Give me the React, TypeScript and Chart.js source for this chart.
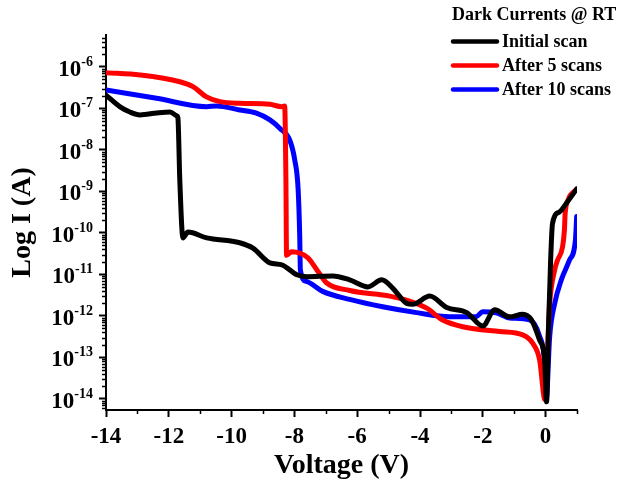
import React, { useEffect, useRef } from 'react';
import { Chart, registerables } from 'chart.js';

Chart.register(...registerables);

// ---- Data (Voltage in V, current in A) ----
const initialV = [-14, -13.55, -13.24, -12.92, -12.38, -11.96, -11.74, -11.71, -11.65, -11.55, -11.39, -10.79, -9.74, -9.32, -8.78, -8.40, -7.92, -7.61, -6.78, -6.24, -5.66, -5.22, -4.87, -4.42, -4.23, -3.69, -3.15, -2.51, -2.00, -1.62, -1.15, -0.73, -0.45, -0.19, -0.03, 0.03, 0.09, 0.16, 0.22, 0.44, 0.67, 0.99];
const initialI = [2.1e-7, 1.09e-7, 8.2e-8, 7.0e-8, 7.8e-8, 8.2e-8, 6.6e-8, 6.0e-8, 1.9e-9, 7.6e-11, 1.05e-10, 7.6e-11, 5.8e-11, 4.3e-11, 1.9e-11, 1.7e-11, 9.8e-12, 8.8e-12, 9.2e-12, 7.4e-12, 5.0e-12, 7.4e-12, 4.7e-12, 2.0e-12, 1.9e-12, 3.0e-12, 1.6e-12, 1.2e-12, 5.7e-13, 1.4e-12, 9.5e-13, 1.1e-12, 8.0e-13, 2.6e-13, 8.7e-14, 8.5e-15, 4.6e-13, 2.2e-11, 1.7e-10, 3.2e-10, 5.3e-10, 1.15e-9];

const after5V = [-14, -12.92, -11.65, -11.23, -10.80, -10.37, -9.74, -8.78, -8.41, -8.31, -8.27, -8.25, -8.09, -7.57, -7.25, -6.98, -6.24, -4.96, -4.43, -3.80, -3.28, -2.64, -1.46, -0.73, -0.41, -0.19, -0.02, 0.13, 0.29, 0.38, 0.54, 0.60, 0.62, 0.72, 0.97];
const after5I = [7.3e-7, 6.4e-7, 4.4e-7, 3.35e-7, 1.9e-7, 1.46e-7, 1.33e-7, 1.26e-7, 1.1e-7, 1.15e-7, 1.9e-9, 2.9e-11, 3.5e-11, 2.5e-11, 1.17e-11, 6.3e-12, 4.1e-12, 3.0e-12, 2.4e-12, 1.56e-12, 8.0e-13, 5.5e-13, 4.2e-13, 3.5e-13, 2.2e-13, 8.7e-14, 9.5e-15, 2.0e-12, 1.3e-11, 2.2e-11, 4.6e-11, 1.2e-10, 2.7e-10, 6.3e-10, 1.1e-9];

const after10V = [-14, -12.39, -10.80, -10.48, -9.74, -9.21, -8.78, -8.46, -8.15, -7.99, -7.88, -7.83, -7.81, -7.62, -7.10, -6.24, -5.19, -4.11, -3.06, -2.21, -2.00, -1.57, -1.15, -0.51, -0.19, -0.03, 0.02, 0.13, 0.29, 0.50, 0.76, 0.95, 0.99];
const after10I = [2.8e-7, 1.76e-7, 1.1e-7, 1.15e-7, 9.2e-8, 7.7e-8, 5.3e-8, 3.3e-8, 1.74e-8, 5.8e-9, 1.09e-9, 8.1e-11, 1.28e-11, 6.8e-12, 3.9e-12, 2.5e-12, 1.66e-12, 1.2e-12, 9.6e-13, 9.6e-13, 1.26e-12, 1.18e-12, 8.9e-13, 8.0e-13, 3.2e-13, 7.4e-14, 9.5e-15, 3.2e-13, 2.0e-12, 7.4e-12, 2.2e-11, 6.8e-11, 2.5e-10];

const seriesNames = ['Initial scan', 'After 5 scans', 'After 10 scans'];
const seriesColors = ['#000000', '#ff0000', '#0000ff'];
const legendTitle = 'Dark Currents @ RT';
const xTitle = 'Voltage (V)';
const yTitle = 'Log I (A)';

const X_MIN = -14;
const X_MAX = 1;
const Y_MIN = 5.4e-15;
const Y_MAX = 5.9e-6;
const DECADES = [-15, -14, -13, -12, -11, -10, -9, -8, -7, -6];

const isDecade = (v: number) => {
  const l = Math.log10(v);
  return Math.abs(l - Math.round(l)) < 1e-6;
};

const FONT = '"Liberation Serif", "Times New Roman", serif';

// minor tick marks (shorter than the library-drawn major ones)
const minorTicksPlugin = {
  id: 'minorTicks',
  afterDraw(chart: any) {
    const { ctx, chartArea } = chart;
    const xs = chart.scales.x;
    const ys = chart.scales.y;
    ctx.save();
    ctx.strokeStyle = '#000';
    ctx.lineWidth = 1.5;
    ctx.beginPath();
    ys.ticks.forEach((t: any) => {
      if (!isDecade(t.value)) {
        const py = Math.round(ys.getPixelForValue(t.value)) + 0.5;
        ctx.moveTo(chartArea.left, py);
        ctx.lineTo(chartArea.left - 4, py);
      }
    });
    xs.ticks.forEach((t: any) => {
      if (Math.round(t.value) % 2 !== 0) {
        const px = Math.round(xs.getPixelForValue(t.value)) + 0.5;
        ctx.moveTo(px, chartArea.bottom);
        ctx.lineTo(px, chartArea.bottom + 4);
      }
    });
    ctx.stroke();
    ctx.restore();
  },
};

// y tick labels with true superscript exponents (10^n)
const powerLabelsPlugin = {
  id: 'powerLabels',
  afterDraw(chart: any) {
    const { ctx, chartArea } = chart;
    const ys = chart.scales.y;
    const right = chartArea.left - 13;
    ctx.save();
    ctx.fillStyle = '#000';
    ctx.textAlign = 'left';
    ctx.textBaseline = 'alphabetic';
    ys.ticks.forEach((t: any) => {
      if (!isDecade(t.value)) return;
      const py = ys.getPixelForValue(t.value);
      const exp = String(Math.round(Math.log10(t.value)));
      ctx.font = `bold 14px ${FONT}`;
      const ew = ctx.measureText(exp).width;
      ctx.font = `bold 23px ${FONT}`;
      const bw = ctx.measureText('10').width;
      ctx.fillText('10', right - ew - bw, py + 9);
      ctx.font = `bold 14px ${FONT}`;
      ctx.fillText(exp, right - ew, py - 1);
    });
    ctx.restore();
  },
};

const legendPlugin = {
  id: 'customLegend',
  afterDraw(chart: any) {
    const { ctx } = chart;
    ctx.save();
    ctx.fillStyle = '#000';
    ctx.textAlign = 'left';
    ctx.textBaseline = 'middle';
    ctx.font = `bold 18px ${FONT}`;
    ctx.fillText(legendTitle, 452, 15.5);
    const rows = [41.5, 65.5, 89.5];
    seriesNames.forEach((name, i) => {
      ctx.strokeStyle = seriesColors[i];
      ctx.lineWidth = 4.5;
      ctx.lineCap = 'round';
      ctx.beginPath();
      ctx.moveTo(453, rows[i]);
      ctx.lineTo(497, rows[i]);
      ctx.stroke();
      ctx.fillText(name, 502, rows[i] + 0.5);
    });
    ctx.restore();
  },
};

export default function App() {
  const canvasRef = useRef<HTMLCanvasElement | null>(null);

  useEffect(() => {
    if (!canvasRef.current) return;
    const mk = (vs: number[], is: number[]) => vs.map((v, i) => ({ x: v, y: is[i] }));
    const datasets = [
      { label: seriesNames[0], data: mk(initialV, initialI) },
      { label: seriesNames[1], data: mk(after5V, after5I) },
      { label: seriesNames[2], data: mk(after10V, after10I) },
    ].map((d, i) => ({
      ...d,
      borderColor: seriesColors[i],
      backgroundColor: seriesColors[i],
      borderWidth: 5,
      pointRadius: 0,
      fill: false,
      cubicInterpolationMode: 'monotone' as const,
      borderJoinStyle: 'round' as const,
      borderCapStyle: 'round' as const,
    }));

    const chart = new Chart(canvasRef.current, {
      type: 'line',
      data: { datasets },
      plugins: [minorTicksPlugin, powerLabelsPlugin, legendPlugin],
      options: {
        animation: false,
        responsive: false,
        maintainAspectRatio: false,
        devicePixelRatio: 1,
        layout: { padding: { left: 0, top: 35, right: 59, bottom: 0 } },
        plugins: { legend: { display: false }, tooltip: { enabled: false } },
        scales: {
          x: {
            type: 'linear',
            min: X_MIN,
            max: X_MAX,
            afterFit: (s: any) => { s.height = 79; },
            afterBuildTicks: (s: any) => {
              const t = [];
              for (let v = X_MIN; v <= X_MAX; v++) t.push({ value: v });
              s.ticks = t;
            },
            ticks: {
              autoSkip: false,
              maxRotation: 0,
              padding: 6,
              color: '#000',
              font: { family: FONT, size: 23, weight: 'bold' },
              callback: (v: any) => (Math.round(v) % 2 === 0 ? String(v) : ''),
            },
            grid: {
              display: true,
              drawOnChartArea: false,
              drawTicks: true,
              tickLength: 7,
              tickWidth: 2,
              tickColor: (c: any) => (c.tick && Math.round(c.tick.value) % 2 === 0 ? '#000' : 'rgba(0,0,0,0)'),
            },
            border: { display: true, color: '#000', width: 2 },
            title: {
              display: true,
              text: xTitle,
              color: '#000',
              font: { family: FONT, size: 28, weight: 'bold' },
              padding: { top: 0, bottom: 6 },
            },
          },
          y: {
            type: 'logarithmic',
            min: Y_MIN,
            max: Y_MAX,
            afterFit: (s: any) => { s.width = 106; },
            afterBuildTicks: (s: any) => {
              const t: any[] = [];
              DECADES.forEach((e) => {
                for (let m = 1; m <= 9; m++) {
                  const v = m * Math.pow(10, e);
                  if (v >= Y_MIN && v <= Y_MAX) t.push({ value: v });
                }
              });
              s.ticks = t;
            },
            ticks: {
              display: false,
              autoSkip: false,
            },
            grid: {
              display: true,
              drawOnChartArea: false,
              drawTicks: true,
              tickLength: 7,
              tickWidth: 2,
              tickColor: (c: any) => (c.tick && isDecade(c.tick.value) ? '#000' : 'rgba(0,0,0,0)'),
            },
            border: { display: true, color: '#000', width: 2 },
            title: {
              display: true,
              text: yTitle,
              color: '#000',
              font: { family: FONT, size: 28, weight: 'bold' },
              padding: { top: 6, bottom: 0 },
            },
          },
        },
      } as any,
    });
    return () => chart.destroy();
  }, []);

  return (
    <div style={{ position: 'fixed', left: 0, top: 0, width: 636, height: 489, background: '#fff' }}>
      <canvas ref={canvasRef} width={636} height={489} style={{ display: 'block', width: 636, height: 489 }} />
    </div>
  );
}
